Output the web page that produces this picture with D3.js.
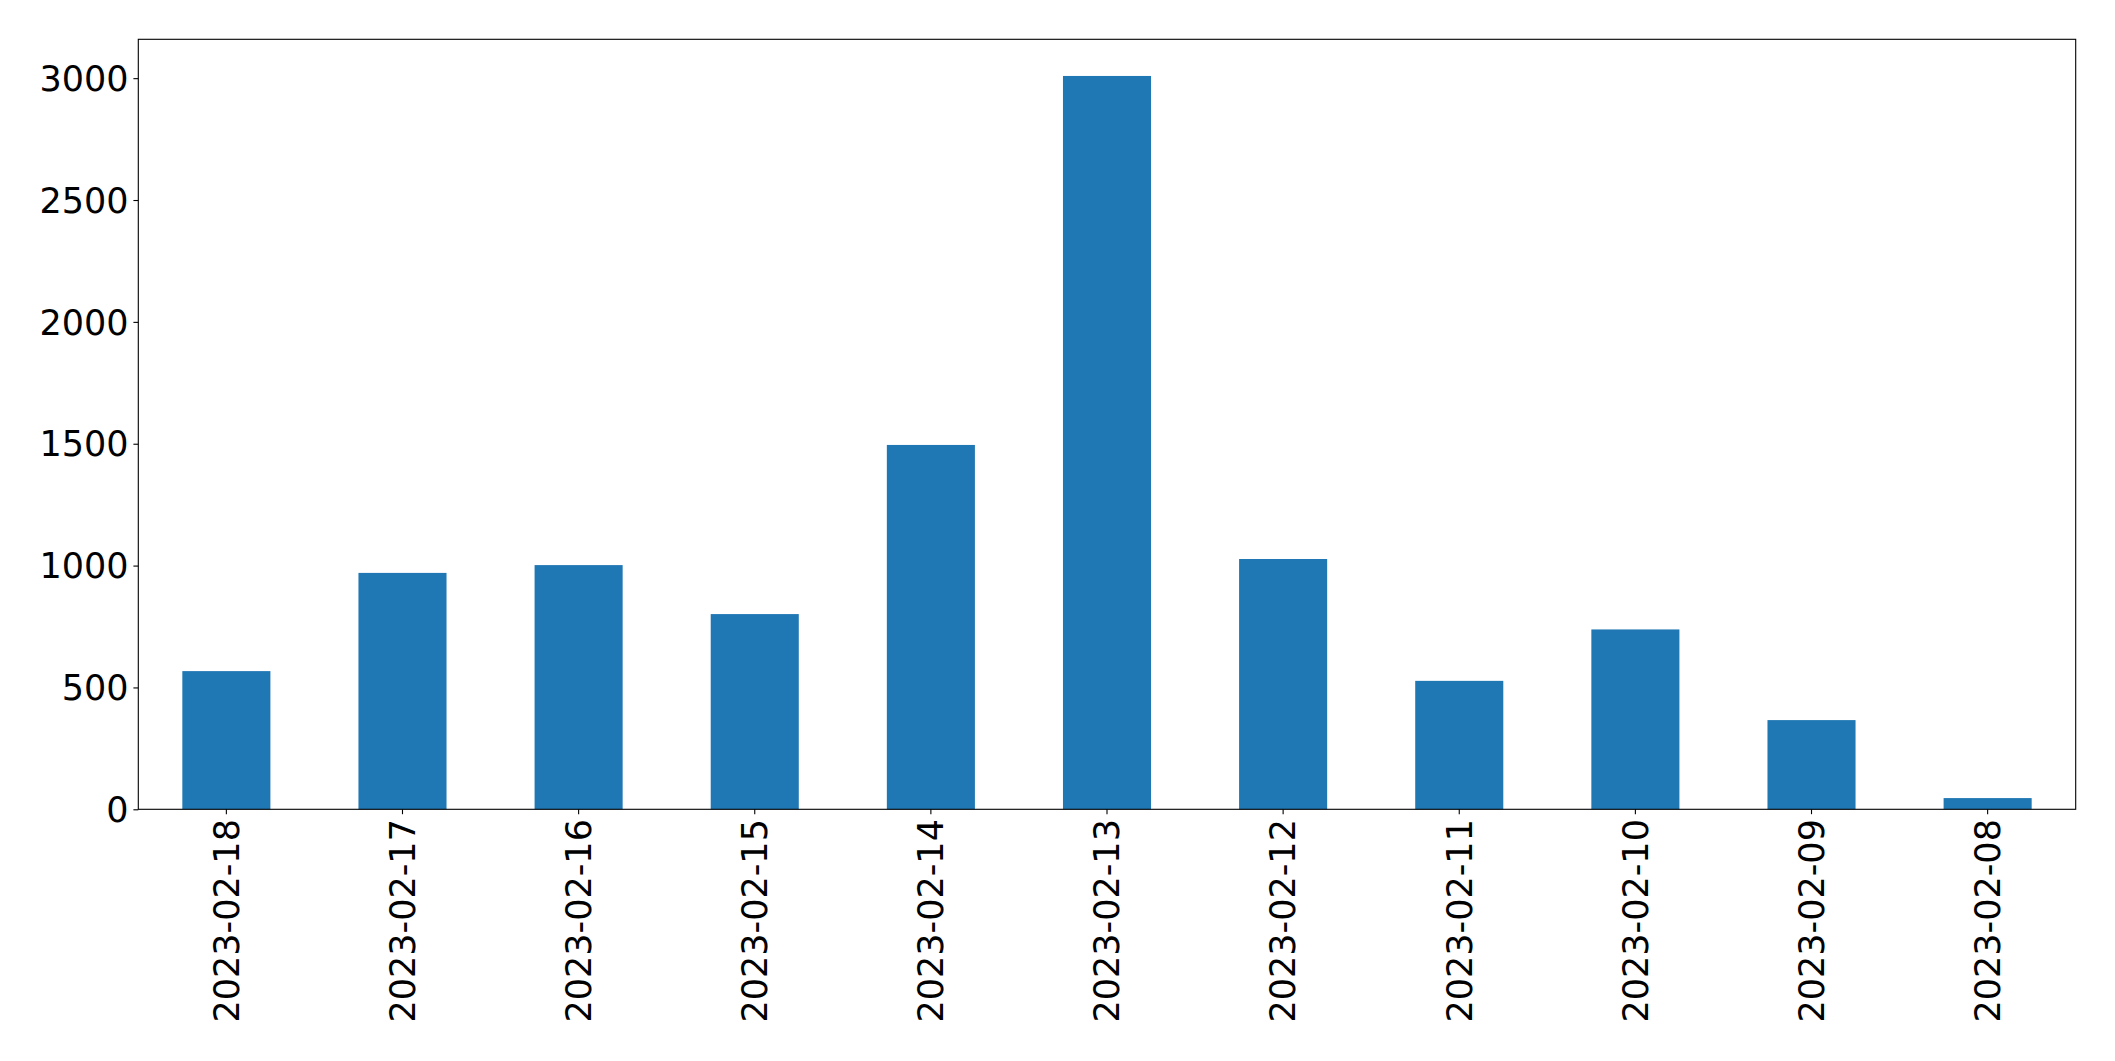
<!DOCTYPE html>
<html>
<head>
<meta charset="utf-8">
<script src="https://cdn.jsdelivr.net/npm/d3@7"></script>
<style>
html,body{margin:0;padding:0;background:#fff;}
svg{display:block;}
text{font-family:"DejaVu Sans",sans-serif;fill:#000;}
</style>
</head>
<body>
<script>
const categories = ["2023-02-18","2023-02-17","2023-02-16","2023-02-15","2023-02-14","2023-02-13","2023-02-12","2023-02-11","2023-02-10","2023-02-09","2023-02-08"];
const values = [567, 970, 1002, 801, 1495, 3009, 1027, 527, 738, 366, 46];
const yTicks = [0, 500, 1000, 1500, 2000, 2500, 3000];

const W = 2115, H = 1061;
const mLeft = 138.3, mRight = 2075.7, mTop = 39.3, mBottom = 809.3;
const fontSize = 35;

const svg = d3.select("body").append("svg").attr("width", W).attr("height", H);

const x = d3.scaleBand().domain(categories).range([mLeft, mRight]).paddingInner(0.5).paddingOuter(0.25);
const yMax = d3.max(values) * 1.05;
const y = d3.scaleLinear().domain([0, yMax]).range([mBottom, mTop]);

svg.append("g").selectAll("rect").data(values).join("rect")
  .attr("x", (d, i) => x(categories[i]))
  .attr("width", x.bandwidth())
  .attr("y", d => y(d))
  .attr("height", d => y(0) - y(d))
  .attr("fill", "#1f77b4");

const yAxis = svg.append("g").attr("transform", `translate(${mLeft},0)`)
  .call(d3.axisLeft(y).tickValues(yTicks).tickFormat(d3.format("d")).tickSize(4.9).tickPadding(4.9));
yAxis.select(".domain").remove();
yAxis.selectAll("line").attr("stroke", "#000").attr("stroke-width", 1.1);
yAxis.selectAll("text").attr("font-size", fontSize).attr("font-family", "DejaVu Sans").attr("dy", "0.35em");

const xAxis = svg.append("g").attr("transform", `translate(0,${mBottom})`)
  .call(d3.axisBottom(x).tickSize(4.9).tickPadding(4.9));
xAxis.select(".domain").remove();
xAxis.selectAll("line").attr("stroke", "#000").attr("stroke-width", 1.1);
xAxis.selectAll("text")
  .attr("font-size", fontSize).attr("font-family", "DejaVu Sans")
  .attr("text-anchor", "end")
  .attr("transform", "rotate(-90)")
  .attr("x", -9.8).attr("y", 0).attr("dy", "0.35em");

svg.append("rect").attr("x", mLeft).attr("y", mTop).attr("width", mRight - mLeft).attr("height", mBottom - mTop)
  .attr("fill", "none").attr("stroke", "#000").attr("stroke-width", 1.1);
</script>
</body>
</html>
